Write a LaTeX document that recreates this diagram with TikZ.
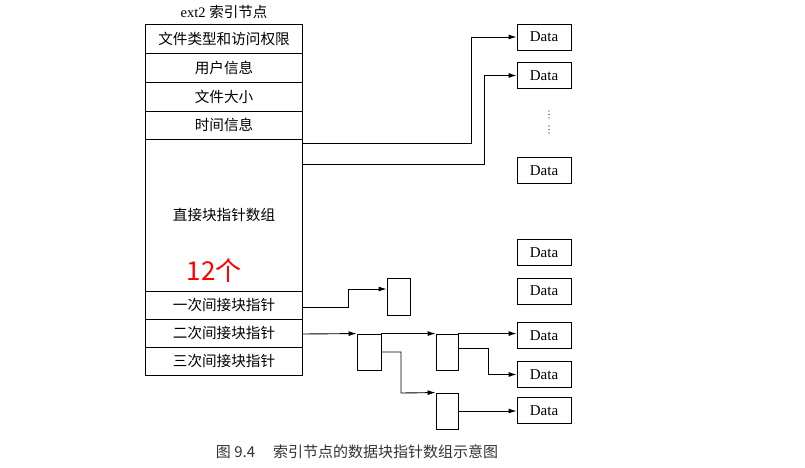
\documentclass[tikz,border=0pt]{standalone}
\usepackage{fontspec}
\setmainfont{Liberation Serif}
\newfontfamily\cjk{Noto Sans CJK SC}
\usetikzlibrary{arrows.meta}
\begin{document}
\begin{tikzpicture}[x=1pt,y=-1pt,>={Latex[length=8pt,width=5pt]},line width=0.9pt,
  cell/.style={draw,minimum width=157pt,inner sep=0pt,font=\cjk\fontsize{14.6}{16}\selectfont},
  data/.style={draw,minimum width=54pt,minimum height=26pt,inner sep=0pt,font=\fontsize{15}{17}\selectfont},
  blk/.style={draw,minimum width=23pt,minimum height=36pt,inner sep=0pt}]
  \useasboundingbox (0,0) rectangle (805,467);

  % 索引节点
  \node (title) at (224,12) {\fontsize{14.5}{16}\selectfont ext2 {\cjk 索引节点}};
  \node[cell,minimum height=29pt] (r1) at (224,38.5) {文件类型和访问权限};
  \node[cell,minimum height=29pt] (r2) at (224,67.5) {用户信息};
  \node[cell,minimum height=29pt] (r3) at (224,96.5) {文件大小};
  \node[cell,minimum height=28pt] (r4) at (224,125) {时间信息};
  \node[cell,minimum height=152pt] (r5) at (224,215) {直接块指针数组};
  \node[cell,minimum height=28pt] (r6) at (224,305) {一次间接块指针};
  \node[cell,minimum height=28pt] (r7) at (224,333) {二次间接块指针};
  \node[cell,minimum height=28pt] (r8) at (224,361) {三次间接块指针};
  \node[text=red,font=\cjk\fontsize{26}{28}\selectfont] (n12) at (214,271) {12个};

  % 数据块
  \node[data] (d1) at (544,37) {Data};
  \node[data] (d2) at (544,75.5) {Data};
  \node[data] (d3) at (544,170.5) {Data};
  \node[data] (d4) at (544,252.5) {Data};
  \node[data] (d5) at (544,291) {Data};
  \node[data] (d6) at (544,335.5) {Data};
  \node[data] (d7) at (544,374.5) {Data};
  \node[data] (d8) at (544,410.5) {Data};
  % 省略号
  \foreach \y in {111,114.5,118,126,129.5,133}
    \fill (549,\y) circle (0.6pt);

  % 间接块
  \node[blk,minimum height=37pt] (s1) at (398.5,296.5) {};
  \node[blk,minimum width=24pt] (a1) at (369,352) {};
  \node[blk,minimum width=22pt] (b1) at (447,352) {};
  \node[blk,minimum width=22pt] (c1) at (447,411) {};

  % 折线拐点
  \coordinate (p1) at (302,143);
  \coordinate (k1) at (471,143);
  \coordinate (p2) at (302,164);
  \coordinate (k2) at (484,164);
  \coordinate (p3) at (302,307);
  \coordinate (k3) at (348,289);
  \coordinate (p4) at (302,334);
  \coordinate (k5) at (488,348);
  \coordinate (k6) at (401,393);

  % 指针连线
  \draw[->] (p1) -- (k1) |- (d1.west);
  \draw[->] (p2) -- (k2) |- (d2.west);
  \draw[->] (p3) -| (k3) -- (s1.west |- k3);
  \draw[->] (p4) -- (a1.north west);
  \draw[->] (a1.north east) -- (b1.north west);
  \draw[->] (b1.north east) -- (b1.north east -| d6.west);
  \draw[->] (b1.east |- k5) -- (k5) |- (d7.west);
  \draw[->] (a1.east) -| (k6) -- (c1.north west);
  \draw[->] (c1.east) -- (c1.east -| d8.west);

  % 图题
  \node[text=black!80,font=\cjk\fontsize{15}{17}\selectfont] (cap) at (357,452) {图 9.4\hspace{1.2em}索引节点的数据块指针数组示意图};
\end{tikzpicture}
\end{document}
